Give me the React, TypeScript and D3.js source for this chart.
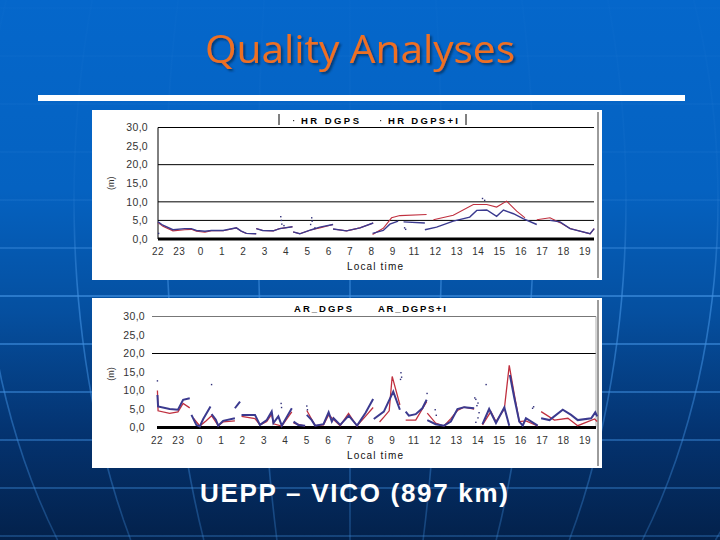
import React from 'react';
import * as d3 from 'd3';

type Pt = [number, number] | null;

// hour labels along the axis, the source chart skips 10
const hourLabels = ['22', '23', '0', '1', '2', '3', '4', '5', '6', '7', '8', '9', '11', '12', '13', '14', '15', '16', '17', '18', '19'];
const metreTicks = [0, 5, 10, 15, 20, 25, 30];

// [position on hour axis, metres], null breaks the line
const hrDgps: Pt[] = [[0, 4.4], [.23, 3.4], [.7, 2.2], [1.25, 2.5], [1.56, 2.6], [1.8, 2.1], [2.2, 1.8], [2.5, 2.2], [3.05, 2.2], [3.67, 3], [3.9, 2.1], [4.14, 1.5], [4.6, 1.4], null, [4.6, 2.8], [4.9, 2.3], [5.4, 2.2], [5.7, 2.8], [6.3, 3.3], null, [6.33, 1.9], [6.64, 1.4], [7.19, 2.5], [7.58, 3], [8.2, 3.9], null, [8.2, 2.7], [8.83, 2.2], [9.46, 3], [10.08, 4.3], null, [10.05, 1.2], [10.55, 2.9], [10.94, 5.7], [11.33, 6.3], [12.58, 6.6], null, [12.9, 5.2], [13.83, 6.4], [14.77, 9.3], [15.4, 9.3], [15.86, 8.6], [16.33, 10.2], [16.8, 7.5], [17.19, 5.7], null, [17.74, 5.2], [18.36, 5.7], [18.83, 4.4], [19.3, 2.8], [20.24, 1.4], [20.43, 2.8]];
const hrDgpsI: Pt[] = [[0, 4.6], [.23, 3.7], [.7, 2.5], [1.25, 2.8], [1.56, 2.8], [1.8, 2.3], [2.2, 2.1], [2.5, 2.3], [3.05, 2.3], [3.67, 3], [3.9, 2.1], [4.14, 1.5], [4.6, 1.4], null, [4.6, 2.8], [4.9, 2.3], [5.4, 2.2], [5.7, 2.8], [6.3, 3.3], null, [6.33, 1.9], [6.64, 1.4], [7.19, 2.5], [7.58, 3.2], [8.2, 3.9], null, [8.2, 2.7], [8.83, 2.2], [9.46, 3], [10.08, 4.3], null, [10.05, 1.5], [10.55, 2.3], [10.86, 4], [11.25, 4.8], null, [11.5, 4.6], [12.5, 4.3], null, [12.5, 2.5], [13.05, 3.2], [13.83, 4.8], [14.6, 5.9], [14.93, 7.7], [15.4, 7.8], [15.86, 6.1], [16.18, 7.8], [16.65, 6.8], [17.1, 5.5], [17.74, 3.9], null, [18.36, 5], [18.83, 4.6], [19.3, 2.8], [20.24, 1.4], [20.43, 2.8]];
const hrStray: [number, number][] = [[5.75, 6], [5.78, 5], [5.8, 4], [5.9, 3.6], [7.2, 5.7], [7.22, 4.8], [7.15, 3.9], [7.35, 3], [0.03, 1.5], [11.55, 3], [11.6, 2.6], [15.2, 10.9], [15.3, 10.4]];

const arDgps: Pt[] = [[.02, 10], [.05, 4.5], [.59, 3.8], [.98, 4.2], [1.22, 6.5], [1.53, 5.3], null, [1.7, 2.5], [2, .4], [2.3, 1.8], [2.55, 3.2], [2.86, .5], [3.09, 1.5], [3.64, 1.8], null, [3.95, 3], [4.58, 2.4], [4.81, .7], [5.13, 1.6], [5.36, 3.6], [5.44, 1], [5.83, .4], [6.3, 4.2], null, [6.38, 1.2], [6.92, .4], null, [7, 4.6], [7.39, .5], [7.78, .7], [8.02, 3.4], [8.56, .5], [8.95, 3.8], [9.34, .4], [9.74, 3], [10.1, 5.4], null, [10.4, 1.5], [10.6, 2.8], [10.85, 4.5], [10.99, 13.8], [11.35, 6.1], null, [11.62, 2], [12.09, 2], [12.6, 7], null, [12.63, 3.9], [13.02, 1.2], [13.41, .4], [13.73, 2.4], [14.04, 4.6], [14.35, 5.5], [14.82, 5], null, [15.21, .7], [15.6, 4.3], [15.84, 1.6], [16.23, 5], [16.46, 16.8], [16.7, 8.8], [16.93, 1.6], [17.24, 1.8], [17.79, .4], null, [17.95, 4.3], [18.57, 2], [19.2, 2.5], [19.66, .5], [20.45, 2.3], [20.57, 1.6]];
const arDgpsI: Pt[] = [[.02, 8.8], [.05, 5.7], [.59, 5], [.98, 4.8], [1.22, 7.5], [1.53, 7.9], null, [1.61, 3.4], [1.84, .7], [2, .3], [2.16, 2.3], [2.5, 5.7], null, [2.55, 3.6], [2.75, 2.1], [2.86, .5], [3.09, 1.8], [3.64, 2.5], null, [3.64, 5.2], [3.88, 7], null, [3.95, 3.4], [4.58, 3.4], [4.81, .7], [5.13, 2], [5.36, 4.3], [5.44, 1.2], [5.67, 3], [5.83, .5], [6.3, 5.2], null, [6.38, 1.6], [6.6, .7], [6.92, .5], null, [7, 3.4], [7.23, 2], [7.39, .5], [7.78, .9], [8.02, 4.1], [8.17, 1.6], [8.25, 2.5], [8.56, .7], [8.96, 3.2], [9.35, .5], [9.74, 3.9], [10.1, 7.7], null, [10.13, 2.3], [10.6, 4.3], [11.04, 9.7], [11.35, 4.8], null, [11.62, 4.3], [11.77, 3.2], [12.09, 3.6], [12.4, 5.2], [12.6, 7.5], null, [12.63, 2], [13.02, .9], [13.41, .5], [13.73, 1.6], [14.04, 5], [14.35, 5.5], [14.82, 5.2], null, [15.21, .9], [15.52, 5], [15.84, 1.2], [16.23, 5.4], [16.46, .5], null, [16.49, 14.2], [16.7, 7.9], [16.93, 1.6], [17.09, .5], [17.24, 2.5], [17.79, .5], null, [17.95, 2.5], [18.34, 2], [18.96, 4.8], [19.35, 3.4], [19.66, 2], [20.29, 2.5], [20.48, 4.1], [20.57, 3]];
const arStray: [number, number][] = [[.02, 12.6], [2.55, 11.6], [5.8, 6.5], [5.82, 5.4], [7, 5.8], [7.03, 4.8], [11.4, 14.8], [11.43, 13.6], [11.38, 13], [14.9, 7.6], [15, 6.6], [14.95, 5.9], [14.85, 8], [15.05, 4], [15, 2.6], [14.9, 1.4], [15.38, 11.6], [12.62, 9.2], [13, 4.8], [13.05, 3.3], [17.55, 5.2], [17.6, 5.6]];

const PAGE = { w: 720, h: 540 };

// slide background: evenly spaced parallels and a fan of meridians
const parallelRows = d3.range(7, 540, 48);
const meridianSteps = d3.range(-6, 7);

type PanelProps = {
  box: [number, number, number, number];
  left: number;
  right: number;
  y0: number;
  y30: number;
  grid: number[];
  redLine: Pt[];
  blueLine: Pt[];
  stray: [number, number][];
  legend: [string, number, number, string, number, number];
  bars?: [number, number];
  showAxisLine: boolean;
};

const FONT = '"Liberation Sans", Arial, sans-serif';

function Panel({ box, left, right, y0, y30, grid, redLine, blueLine, stray, legend, bars, showAxisLine }: PanelProps) {
  const [bx, by, bw, bh] = box;
  const x = d3.scaleLinear().domain([0, 20]).range([left, 585]);
  const y = d3.scaleLinear().domain([0, 30]).range([y0, y30]);
  const line = d3.line<Pt>()
    .defined(d => d !== null)
    .x(d => x((d as [number, number])[0]))
    .y(d => y((d as [number, number])[1]));
  const labelRight = left - (showAxisLine ? 10 : 12);

  return (
    <g fontFamily={FONT}>
      <rect x={bx} y={by} width={bw} height={bh} fill="#fff" />
      <line x1={bx + bw - 4} x2={bx + bw - 4} y1={by + 2} y2={by + bh - 2} stroke="#222" strokeWidth={.9} />
      {grid.map(g => (
        <line key={g} x1={showAxisLine ? left : left - 5} x2={right} y1={y(g)} y2={y(g)}
          stroke={g === 30 && !showAxisLine ? '#777' : '#000'} strokeWidth={1} />
      ))}
      {showAxisLine
        ? <line x1={left} x2={left} y1={y(30)} y2={y(0)} stroke="#000" strokeWidth={1} />
        : <line x1={right} x2={right} y1={y(30)} y2={y(0)} stroke="#999" strokeWidth={.8} />}
      <line x1={left} x2={right} y1={y(0)} y2={y(0)} stroke="#000" strokeWidth={3.2} />
      <path d={line(redLine) ?? ''} fill="none" stroke="#c0303f" strokeWidth={showAxisLine ? 1.1 : 1.3} />
      <path d={line(blueLine) ?? ''} fill="none" stroke="#3b3a8f" strokeWidth={showAxisLine ? 1.4 : 2} />
      {stray.map((d, i) => (
        <rect key={i} x={x(d[0]) - .7} y={y(d[1]) - .7} width={1.4} height={1.4} fill="#2f2e78" />
      ))}
      {metreTicks.map(t => (
        <text key={t} x={labelRight} y={y(t) + 3.7} fontSize={10.5} textAnchor="end" fill="#333" letterSpacing={.3}>
          {d3.format('.1f')(t).replace('.', ',')}
        </text>
      ))}
      {hourLabels.map((h, i) => (
        <text key={h} x={x(i)} y={y0 + 16} fontSize={10} textAnchor="middle" fill="#333" letterSpacing={.5}>{h}</text>
      ))}
      <text transform={`translate(${bx + 22},${y(15) + (showAxisLine ? 0 : 2)}) rotate(-90)`} fontSize={9} textAnchor="middle" fill="#333">(m)</text>
      <text x={347} y={y0 + 31} fontSize={10} fill="#111" textLength={56}>Local time</text>
      <text x={legend[1]} y={by + 14} fontSize={9.5} fontWeight="bold" fill="#000" textLength={legend[2]}>{legend[0]}</text>
      <text x={legend[4]} y={by + 14} fontSize={9.5} fontWeight="bold" fill="#000" textLength={legend[5]}>{legend[3]}</text>
      {bars && bars.map(b => <line key={b} x1={b} x2={b} y1={by + 4} y2={by + 15} stroke="#000" strokeWidth={1} />)}
      {bars && [legend[1], legend[4]].map(l => <rect key={l} x={l - 8} y={by + 10} width={1.2} height={1.2} fill="#333" />)}
    </g>
  );
}

export default function App() {
  const rows = d3.range(0, 541, 20);
  const fan = (k: number) => d3.line<number>()
    .x(yy => 350 + k * 92 * Math.sqrt(Math.max(0, 1 - ((yy - 200) / 560) ** 2)))
    .y(yy => yy)(rows) ?? '';

  return (
    <svg width={PAGE.w} height={PAGE.h} style={{ position: 'fixed', left: 0, top: 0 }}>
      <defs>
        <linearGradient id="slide-bg" x1="0" y1="0" x2="0" y2="1">
          <stop offset="0%" stopColor="#0567cb" />
          <stop offset="35%" stopColor="#0562c1" />
          <stop offset="58%" stopColor="#054f9f" />
          <stop offset="80%" stopColor="#043370" />
          <stop offset="100%" stopColor="#03214b" />
        </linearGradient>
        <linearGradient id="globe-stroke" gradientUnits="userSpaceOnUse" x1="0" y1="0" x2="0" y2={PAGE.h}>
          <stop offset="0%" stopColor="#3f8fe0" stopOpacity={0.03} />
          <stop offset="35%" stopColor="#3f8fe0" stopOpacity={0.1} />
          <stop offset="55%" stopColor="#3f8fe0" stopOpacity={0.65} />
          <stop offset="100%" stopColor="#3f8fe0" stopOpacity={0.3} />
        </linearGradient>
        <filter id="title-shadow" x="-10%" y="-20%" width="120%" height="140%">
          <feDropShadow dx="2" dy="2" stdDeviation="1.2" floodColor="#02305f" floodOpacity="0.8" />
        </filter>
      </defs>
      <rect width={PAGE.w} height={PAGE.h} fill="url(#slide-bg)" />
      {parallelRows.map(r => (
        <rect key={r} x={0} y={r} width={PAGE.w} height={2} fill="url(#globe-stroke)" />
      ))}
      {meridianSteps.map(k => (
        <path key={k} d={fan(k)} fill="none" stroke="url(#globe-stroke)" strokeWidth={1.6} />
      ))}

      <text x={205} y={63} fontSize={39} fontFamily='"Open Sans", sans-serif' fill="#ee7023"
        textLength={310} lengthAdjust="spacingAndGlyphs" filter="url(#title-shadow)">Quality Analyses</text>
      <rect x={38} y={95} width={647} height={6} fill="#fff" />

      <Panel box={[92, 110, 510, 170]} left={158} right={594} y0={239} y30={127.5}
        grid={[30, 20, 10, 5]} redLine={hrDgps} blueLine={hrDgpsI} stray={hrStray}
        legend={['HR DGPS', 301, 58, 'HR DGPS+I', 388, 70]} bars={[279, 466]} showAxisLine />
      <Panel box={[92, 298, 510, 170]} left={157} right={596} y0={427.5} y30={316.5}
        grid={[30, 20]} redLine={arDgps} blueLine={arDgpsI} stray={arStray}
        legend={['AR_DGPS', 294, 58, 'AR_DGPS+I', 378, 68]} showAxisLine={false} />

      <text x={200} y={502} fontSize={26} fontWeight="bold" fontFamily='"Liberation Sans", sans-serif' fill="#fff"
        textLength={308}>UEPP – VICO (897 km)</text>
    </svg>
  );
}
